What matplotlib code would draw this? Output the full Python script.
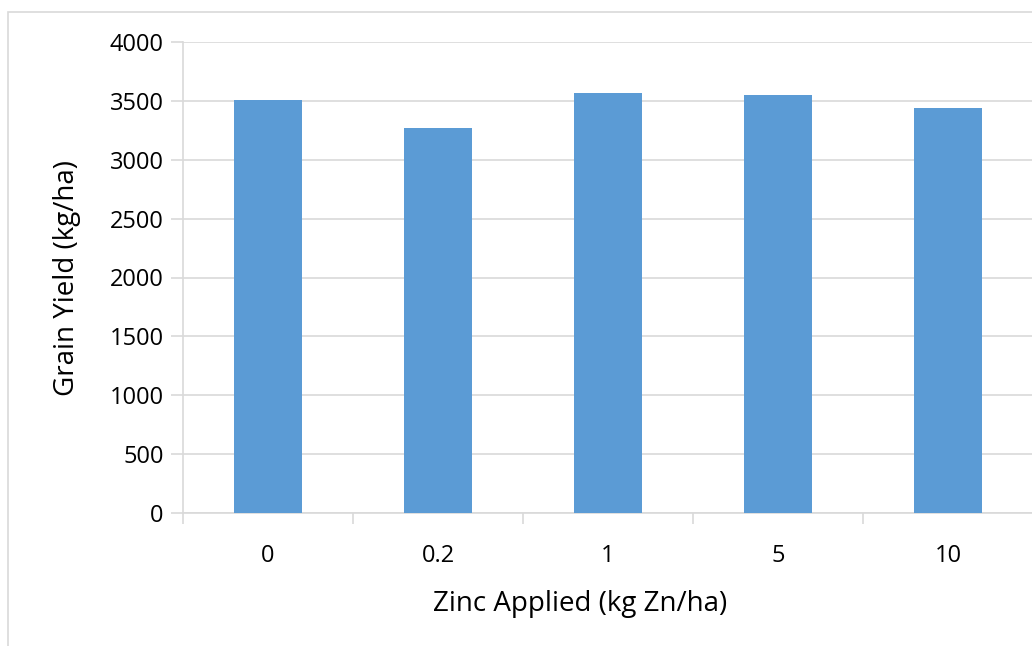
import matplotlib.pyplot as plt
import numpy as np
from matplotlib.patches import Rectangle

# Data
zinc_rates = ["0", "0.2", "1", "5", "10"]
grain_yield = [3505, 3270, 3565, 3550, 3440]

W, H = 1032, 646
fig = plt.figure(figsize=(W / 100, H / 100), dpi=100)
plt.rcParams['font.family'] = ['Open Sans', 'DejaVu Sans']

grid_col = "#d9d9d9"
bar_col = "#5b9bd5"

# chart border
fig.patches.append(Rectangle((8 / W, -0.01), 1.2, 1 - 12 / H + 0.01, transform=fig.transFigure,
                             fill=False, edgecolor=grid_col, linewidth=1.2))

left, right = 183 / W, 1033 / W
top, bottom = 1 - 42 / H, 1 - 513 / H
ax = fig.add_axes([left, bottom, right - left, top - bottom])

x = np.arange(len(zinc_rates))
ax.bar(x, grain_yield, width=0.4, color=bar_col, zorder=3)

ax.set_xlim(-0.5, len(zinc_rates) - 0.5)
ax.set_ylim(0, 4000)
ax.set_yticks(np.arange(0, 4001, 500))
ax.yaxis.grid(True, color=grid_col, linewidth=1.2, zorder=0)

ax.set_xticks(x)
ax.set_xticklabels(zinc_rates, fontsize=17)
ax.set_xticks(np.arange(-0.5, len(zinc_rates), 1), minor=True)
ax.tick_params(axis='x', which='major', length=0, pad=22)
ax.tick_params(axis='x', which='minor', length=8, color=grid_col, width=1.2)
ax.tick_params(axis='y', length=9, color=grid_col, width=1.2, labelsize=17, pad=5)

for s in ["top", "right"]:
    ax.spines[s].set_visible(False)
for s in ["left", "bottom"]:
    ax.spines[s].set_color(grid_col)
    ax.spines[s].set_linewidth(1.2)

ax.set_ylabel("Grain Yield (kg/ha)", fontsize=20)
ax.set_xlabel("Zinc Applied (kg Zn/ha)", fontsize=20)
ax.yaxis.set_label_coords((67 / W - left) / (right - left), 0.5)
ax.xaxis.set_label_coords((580 / W - left) / (right - left), -(604 - 513) / (513 - 42))
ax.xaxis.label.set_va("center")
ax.yaxis.label.set_va("center")

fig.savefig("out.png", dpi=100)
